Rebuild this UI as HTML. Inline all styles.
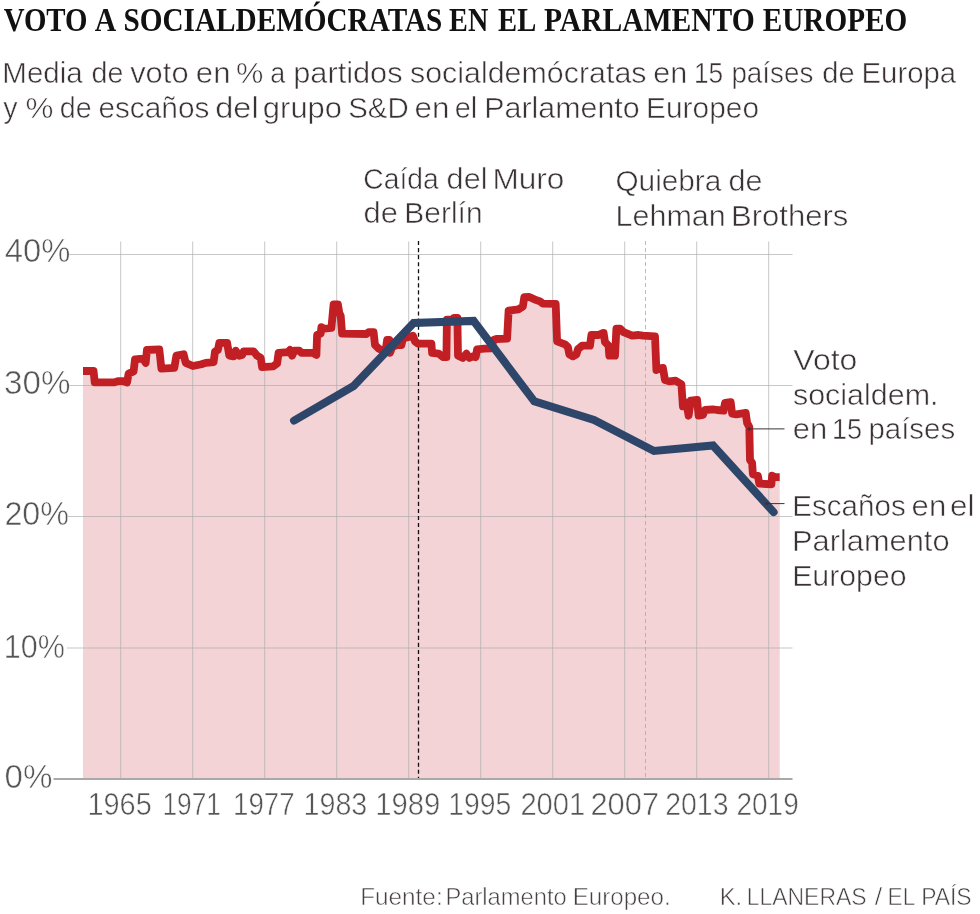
<!DOCTYPE html>
<html lang="es">
<head>
<meta charset="utf-8">
<title>Voto a socialdemócratas en el Parlamento Europeo</title>
<style>
html,body{margin:0;padding:0;background:#fff;}
body{width:980px;height:914px;overflow:hidden;}
svg{display:block;}
.t{font-family:"Liberation Serif","DejaVu Serif",serif;font-weight:bold;font-size:33.5px;fill:#111111;}
.s{font-family:"Liberation Sans","DejaVu Sans",sans-serif;font-weight:normal;font-size:30.3px;fill:#3a3236;}
.a{font-family:"Liberation Sans","DejaVu Sans",sans-serif;font-weight:normal;font-size:30.3px;fill:#3a3236;}
.y{font-family:"Liberation Sans","DejaVu Sans",sans-serif;font-weight:normal;font-size:32.8px;fill:#555555;}
.x{font-family:"Liberation Sans","DejaVu Sans",sans-serif;font-weight:normal;font-size:30.9px;fill:#555555;}
.f{font-family:"Liberation Sans","DejaVu Sans",sans-serif;font-weight:normal;font-size:24.4px;fill:#474141;}
.c{font-family:"Liberation Sans","DejaVu Sans",sans-serif;font-weight:normal;font-size:23.3px;fill:#474141;}
.s,.a,.y,.x,.f,.c{stroke:#ffffff;stroke-width:0.55px;stroke-linejoin:round;}
</style>
</head>
<body>
<svg width="980" height="914" viewBox="0 0 980 914">
<desc>Voto a socialdemócratas en el Parlamento Europeo: media de voto en % a partidos socialdemócratas en 15 países de Europa y % de escaños del grupo S&amp;D en el Parlamento Europeo</desc>
<rect width="980" height="914" fill="#ffffff"/>
<g id="title">
<text class="t" x="3.67" y="30.6" textLength="83.86" lengthAdjust="spacingAndGlyphs">VOTO</text>
<text class="t" x="94.69" y="30.6" textLength="21.54" lengthAdjust="spacingAndGlyphs">A</text>
<text class="t" x="123.45" y="30.6" textLength="318.93" lengthAdjust="spacingAndGlyphs">SOCIALDEMÓCRATAS</text>
<text class="t" x="449.11" y="30.6" textLength="39.15" lengthAdjust="spacingAndGlyphs">EN</text>
<text class="t" x="498.10" y="30.6" textLength="38.16" lengthAdjust="spacingAndGlyphs">EL</text>
<text class="t" x="543.98" y="30.6" textLength="210.84" lengthAdjust="spacingAndGlyphs">PARLAMENTO</text>
<text class="t" x="762.79" y="30.6" textLength="144.47" lengthAdjust="spacingAndGlyphs">EUROPEO</text>
</g>
<g id="subtitle">
<text class="s" x="2.31" y="83.47" textLength="80.41" lengthAdjust="spacingAndGlyphs">Media</text>
<text class="s" x="91.50" y="83.47" textLength="31.94" lengthAdjust="spacingAndGlyphs">de</text>
<text class="s" x="130.16" y="83.47" textLength="58.41" lengthAdjust="spacingAndGlyphs">voto</text>
<text class="s" x="195.83" y="83.47" textLength="34.60" lengthAdjust="spacingAndGlyphs">en</text>
<text class="s" x="236.05" y="83.47" textLength="27.38" lengthAdjust="spacingAndGlyphs">%</text>
<text class="s" x="270.31" y="83.47" textLength="14.96" lengthAdjust="spacingAndGlyphs">a</text>
<text class="s" x="293.20" y="83.47" textLength="109.41" lengthAdjust="spacingAndGlyphs">partidos</text>
<text class="s" x="410.00" y="83.47" textLength="236.53" lengthAdjust="spacingAndGlyphs">socialdemócratas</text>
<text class="s" x="653.35" y="83.47" textLength="34.03" lengthAdjust="spacingAndGlyphs">en</text>
<text class="s" x="693.95" y="83.47" textLength="29.22" lengthAdjust="spacingAndGlyphs">15</text>
<text class="s" x="731.42" y="83.47" textLength="81.90" lengthAdjust="spacingAndGlyphs">países</text>
<text class="s" x="822.28" y="83.47" textLength="32.44" lengthAdjust="spacingAndGlyphs">de</text>
<text class="s" x="861.52" y="83.47" textLength="94.56" lengthAdjust="spacingAndGlyphs">Europa</text>
<text class="s" x="3.21" y="118.27" textLength="14.30" lengthAdjust="spacingAndGlyphs">y</text>
<text class="s" x="25.52" y="118.27" textLength="27.94" lengthAdjust="spacingAndGlyphs">%</text>
<text class="s" x="59.75" y="118.27" textLength="31.94" lengthAdjust="spacingAndGlyphs">de</text>
<text class="s" x="98.40" y="118.27" textLength="110.98" lengthAdjust="spacingAndGlyphs">escaños</text>
<text class="s" x="215.30" y="118.27" textLength="43.38" lengthAdjust="spacingAndGlyphs">del</text>
<text class="s" x="262.89" y="118.27" textLength="79.15" lengthAdjust="spacingAndGlyphs">grupo</text>
<text class="s" x="348.17" y="118.27" textLength="60.47" lengthAdjust="spacingAndGlyphs">S&amp;D</text>
<text class="s" x="414.56" y="118.27" textLength="34.88" lengthAdjust="spacingAndGlyphs">en</text>
<text class="s" x="454.69" y="118.27" textLength="22.64" lengthAdjust="spacingAndGlyphs">el</text>
<text class="s" x="484.23" y="118.27" textLength="155.49" lengthAdjust="spacingAndGlyphs">Parlamento</text>
<text class="s" x="646.02" y="118.27" textLength="113.01" lengthAdjust="spacingAndGlyphs">Europeo</text>
</g>
<path id="area" d="M83.0,371.0 L93.6,371.0 L94.7,382.4 L114.3,382.4 L117.9,381.1 L122.9,381.1 L127.1,382.4 L128.6,373.6 L133.6,371.4 L135.0,359.3 L142.9,358.6 L145.7,362.9 L146.9,350.0 L159.3,349.3 L161.4,368.6 L174.3,367.9 L176.4,355.7 L183.6,354.3 L185.7,362.9 L192.9,366.0 L201.4,364.3 L205.7,362.9 L211.4,362.4 L213.6,362.1 L215.0,351.4 L217.9,350.0 L219.3,342.9 L227.1,342.9 L229.3,355.7 L233.6,356.4 L235.7,350.7 L239.3,355.7 L242.1,355.0 L243.6,351.4 L253.6,351.4 L257.1,355.7 L260.7,357.9 L262.1,367.1 L272.9,366.4 L277.1,363.6 L278.6,352.9 L287.9,352.1 L290.0,350.0 L292.1,355.7 L294.3,350.7 L299.3,350.7 L301.4,352.9 L312.9,352.9 L316.4,355.0 L317.1,335.0 L320.7,333.6 L321.4,327.1 L324.3,328.6 L331.4,327.9 L333.6,304.3 L337.9,304.3 L339.3,312.9 L340.7,315.7 L342.1,333.6 L366.4,334.0 L368.6,332.1 L373.6,332.1 L375.0,345.0 L378.6,348.6 L381.4,350.0 L385.7,350.0 L387.1,340.0 L389.3,340.0 L390.0,352.9 L392.1,347.1 L397.1,345.0 L401.4,345.0 L402.9,338.6 L408.6,337.1 L412.9,335.7 L415.0,341.4 L417.9,343.6 L431.4,343.6 L432.1,352.9 L438.6,353.6 L442.9,357.1 L446.4,357.1 L446.9,319.7 L453.1,319.7 L453.7,318.0 L457.4,318.0 L458.0,355.7 L462.9,357.9 L466.4,353.6 L469.3,357.9 L474.3,355.7 L475.7,357.1 L477.1,349.3 L484.3,348.6 L491.4,348.3 L493.6,340.0 L496.4,339.0 L507.1,338.6 L508.6,310.7 L518.6,309.3 L522.9,306.4 L524.3,297.1 L529.3,296.9 L534.3,299.3 L540.0,301.4 L542.9,303.6 L555.7,303.9 L557.1,341.4 L565.0,344.3 L567.9,347.1 L569.3,354.3 L572.9,356.4 L576.4,354.3 L577.9,349.3 L582.1,345.7 L590.0,345.7 L591.4,335.0 L598.6,335.0 L602.9,332.9 L603.6,332.9 L605.0,342.1 L608.6,345.7 L609.3,355.7 L615.0,355.7 L616.4,328.6 L620.0,328.6 L623.6,332.1 L632.1,335.7 L638.6,335.0 L642.9,335.7 L655.0,336.4 L656.4,370.0 L658.6,368.6 L662.9,367.9 L665.0,380.0 L669.3,381.4 L675.7,380.7 L681.4,384.3 L682.9,406.4 L686.4,402.9 L688.6,415.7 L690.7,400.7 L697.1,400.0 L698.6,415.7 L702.9,415.0 L705.0,410.0 L712.9,409.3 L717.1,410.0 L723.6,410.7 L725.0,402.9 L730.7,402.1 L732.1,413.6 L736.4,414.3 L745.7,412.9 L747.1,422.9 L749.3,427.1 L750.0,460.0 L752.1,462.9 L752.9,474.3 L757.9,475.7 L759.3,483.6 L771.4,484.3 L772.1,475.7 L775.0,477.1 L779.7,477.1 L779.7,779.0 L83.0,779.0 Z" fill="#f3d3d5" stroke="none"/>
<g id="grid" stroke="#aaaaaa" stroke-opacity="0.66" stroke-width="1" fill="none">
<line x1="69" y1="254.5" x2="792.5" y2="254.5"/>
<line x1="69" y1="385.5" x2="792.5" y2="385.5"/>
<line x1="68" y1="516.5" x2="792.5" y2="516.5"/>
<line x1="67" y1="648.0" x2="792.5" y2="648.0"/>
<line x1="120.7" y1="241.5" x2="120.7" y2="778"/>
<line x1="192.7" y1="241.5" x2="192.7" y2="778"/>
<line x1="264.7" y1="241.5" x2="264.7" y2="778"/>
<line x1="336.7" y1="241.5" x2="336.7" y2="778"/>
<line x1="408.7" y1="241.5" x2="408.7" y2="778"/>
<line x1="480.7" y1="241.5" x2="480.7" y2="778"/>
<line x1="552.7" y1="241.5" x2="552.7" y2="778"/>
<line x1="624.7" y1="241.5" x2="624.7" y2="778"/>
<line x1="696.7" y1="241.5" x2="696.7" y2="778"/>
<line x1="768.7" y1="241.5" x2="768.7" y2="778"/>
</g>
<line x1="418.5" y1="241" x2="418.5" y2="779.0" stroke="#111" stroke-width="1.3" stroke-dasharray="4.1,2.95"/>
<line x1="645.5" y1="241" x2="645.5" y2="779.0" stroke="#a4a4a4" stroke-opacity="0.75" stroke-width="1" stroke-dasharray="4,3"/>
<line x1="53.5" y1="779.0" x2="792.5" y2="779.0" stroke="#a9a9a9" stroke-width="2"/>
<path id="red" d="M83.0,371.0 L93.6,371.0 L94.7,382.4 L114.3,382.4 L117.9,381.1 L122.9,381.1 L127.1,382.4 L128.6,373.6 L133.6,371.4 L135.0,359.3 L142.9,358.6 L145.7,362.9 L146.9,350.0 L159.3,349.3 L161.4,368.6 L174.3,367.9 L176.4,355.7 L183.6,354.3 L185.7,362.9 L192.9,366.0 L201.4,364.3 L205.7,362.9 L211.4,362.4 L213.6,362.1 L215.0,351.4 L217.9,350.0 L219.3,342.9 L227.1,342.9 L229.3,355.7 L233.6,356.4 L235.7,350.7 L239.3,355.7 L242.1,355.0 L243.6,351.4 L253.6,351.4 L257.1,355.7 L260.7,357.9 L262.1,367.1 L272.9,366.4 L277.1,363.6 L278.6,352.9 L287.9,352.1 L290.0,350.0 L292.1,355.7 L294.3,350.7 L299.3,350.7 L301.4,352.9 L312.9,352.9 L316.4,355.0 L317.1,335.0 L320.7,333.6 L321.4,327.1 L324.3,328.6 L331.4,327.9 L333.6,304.3 L337.9,304.3 L339.3,312.9 L340.7,315.7 L342.1,333.6 L366.4,334.0 L368.6,332.1 L373.6,332.1 L375.0,345.0 L378.6,348.6 L381.4,350.0 L385.7,350.0 L387.1,340.0 L389.3,340.0 L390.0,352.9 L392.1,347.1 L397.1,345.0 L401.4,345.0 L402.9,338.6 L408.6,337.1 L412.9,335.7 L415.0,341.4 L417.9,343.6 L431.4,343.6 L432.1,352.9 L438.6,353.6 L442.9,357.1 L446.4,357.1 L446.9,319.7 L453.1,319.7 L453.7,318.0 L457.4,318.0 L458.0,355.7 L462.9,357.9 L466.4,353.6 L469.3,357.9 L474.3,355.7 L475.7,357.1 L477.1,349.3 L484.3,348.6 L491.4,348.3 L493.6,340.0 L496.4,339.0 L507.1,338.6 L508.6,310.7 L518.6,309.3 L522.9,306.4 L524.3,297.1 L529.3,296.9 L534.3,299.3 L540.0,301.4 L542.9,303.6 L555.7,303.9 L557.1,341.4 L565.0,344.3 L567.9,347.1 L569.3,354.3 L572.9,356.4 L576.4,354.3 L577.9,349.3 L582.1,345.7 L590.0,345.7 L591.4,335.0 L598.6,335.0 L602.9,332.9 L603.6,332.9 L605.0,342.1 L608.6,345.7 L609.3,355.7 L615.0,355.7 L616.4,328.6 L620.0,328.6 L623.6,332.1 L632.1,335.7 L638.6,335.0 L642.9,335.7 L655.0,336.4 L656.4,370.0 L658.6,368.6 L662.9,367.9 L665.0,380.0 L669.3,381.4 L675.7,380.7 L681.4,384.3 L682.9,406.4 L686.4,402.9 L688.6,415.7 L690.7,400.7 L697.1,400.0 L698.6,415.7 L702.9,415.0 L705.0,410.0 L712.9,409.3 L717.1,410.0 L723.6,410.7 L725.0,402.9 L730.7,402.1 L732.1,413.6 L736.4,414.3 L745.7,412.9 L747.1,422.9 L749.3,427.1 L750.0,460.0 L752.1,462.9 L752.9,474.3 L757.9,475.7 L759.3,483.6 L771.4,484.3 L772.1,475.7 L775.0,477.1 L779.7,477.1" fill="none" stroke="#c21f24" stroke-width="7.8" stroke-linejoin="round" stroke-linecap="butt"/>
<path id="blue" d="M294.0,420.6 L353.6,386.0 L413.6,322.9 L473.6,320.9 L534.3,401.4 L594.0,420.0 L654.0,451.0 L713.0,445.5 L773.6,512.1" fill="none" stroke="#2d4669" stroke-width="8" stroke-linejoin="miter" stroke-linecap="round"/>
<g stroke="#3b3337" stroke-width="1" fill="#3b3337"><line x1="749" y1="428.9" x2="784.5" y2="428.9"/><circle cx="749" cy="428.9" r="1.6" stroke="none"/><line x1="766.7" y1="503.6" x2="784.5" y2="503.6"/><circle cx="766.7" cy="503.6" r="1.6" stroke="none"/></g>
<g id="ylabels">
<text class="y" x="4.78" y="262.47" textLength="65.59" lengthAdjust="spacingAndGlyphs">40%</text>
<text class="y" x="4.03" y="394.27" textLength="66.36" lengthAdjust="spacingAndGlyphs">30%</text>
<text class="y" x="4.40" y="525.47" textLength="64.65" lengthAdjust="spacingAndGlyphs">20%</text>
<text class="y" x="3.81" y="657.77" textLength="61.06" lengthAdjust="spacingAndGlyphs">10%</text>
<text class="y" x="4.50" y="788.07" textLength="47.88" lengthAdjust="spacingAndGlyphs">0%</text>
</g>
<g id="xlabels">
<text class="x" x="87.43" y="814.87" textLength="64.35" lengthAdjust="spacingAndGlyphs">1965</text>
<text class="x" x="162.45" y="814.87" textLength="58.51" lengthAdjust="spacingAndGlyphs">1971</text>
<text class="x" x="233.03" y="814.87" textLength="61.55" lengthAdjust="spacingAndGlyphs">1977</text>
<text class="x" x="303.55" y="814.87" textLength="63.77" lengthAdjust="spacingAndGlyphs">1983</text>
<text class="x" x="375.20" y="814.87" textLength="65.12" lengthAdjust="spacingAndGlyphs">1989</text>
<text class="x" x="448.28" y="814.87" textLength="63.07" lengthAdjust="spacingAndGlyphs">1995</text>
<text class="x" x="520.38" y="814.87" textLength="64.95" lengthAdjust="spacingAndGlyphs">2001</text>
<text class="x" x="590.38" y="814.87" textLength="68.81" lengthAdjust="spacingAndGlyphs">2007</text>
<text class="x" x="665.22" y="814.87" textLength="63.29" lengthAdjust="spacingAndGlyphs">2013</text>
<text class="x" x="736.45" y="814.87" textLength="62.30" lengthAdjust="spacingAndGlyphs">2019</text>
</g>
<g id="annotations">
<text class="a" x="363.36" y="188.57" textLength="75.42" lengthAdjust="spacingAndGlyphs">Caída</text>
<text class="a" x="446.60" y="188.57" textLength="40.89" lengthAdjust="spacingAndGlyphs">del</text>
<text class="a" x="492.42" y="188.57" textLength="71.90" lengthAdjust="spacingAndGlyphs">Muro</text>
<text class="a" x="363.48" y="223.27" textLength="34.44" lengthAdjust="spacingAndGlyphs">de</text>
<text class="a" x="404.37" y="223.27" textLength="78.20" lengthAdjust="spacingAndGlyphs">Berlín</text>
<text class="a" x="615.48" y="190.77" textLength="105.86" lengthAdjust="spacingAndGlyphs">Quiebra</text>
<text class="a" x="728.40" y="190.77" textLength="33.99" lengthAdjust="spacingAndGlyphs">de</text>
<text class="a" x="615.52" y="225.97" textLength="110.26" lengthAdjust="spacingAndGlyphs">Lehman</text>
<text class="a" x="730.97" y="225.97" textLength="117.40" lengthAdjust="spacingAndGlyphs">Brothers</text>
<text class="a" x="793.33" y="370.17" textLength="64.03" lengthAdjust="spacingAndGlyphs">Voto</text>
<text class="a" x="792.95" y="404.77" textLength="145.61" lengthAdjust="spacingAndGlyphs">socialdem.</text>
<text class="a" x="792.73" y="439.07" textLength="34.48" lengthAdjust="spacingAndGlyphs">en</text>
<text class="a" x="831.98" y="439.07" textLength="30.14" lengthAdjust="spacingAndGlyphs">15</text>
<text class="a" x="868.39" y="439.07" textLength="86.81" lengthAdjust="spacingAndGlyphs">países</text>
<text class="a" x="792.20" y="516.27" textLength="113.65" lengthAdjust="spacingAndGlyphs">Escaños</text>
<text class="a" x="911.63" y="516.27" textLength="34.60" lengthAdjust="spacingAndGlyphs">en</text>
<text class="a" x="950.01" y="516.27" textLength="24.51" lengthAdjust="spacingAndGlyphs">el</text>
<text class="a" x="792.09" y="551.07" textLength="157.44" lengthAdjust="spacingAndGlyphs">Parlamento</text>
<text class="a" x="792.14" y="585.57" textLength="114.42" lengthAdjust="spacingAndGlyphs">Europeo</text>
</g>
<g id="footer">
<text class="f" x="360.24" y="904.87" textLength="82.40" lengthAdjust="spacingAndGlyphs">Fuente:</text>
<text class="f" x="445.39" y="904.87" textLength="121.34" lengthAdjust="spacingAndGlyphs">Parlamento</text>
<text class="f" x="572.65" y="904.87" textLength="98.02" lengthAdjust="spacingAndGlyphs">Europeo.</text>
<text class="c" x="719.67" y="905.07" textLength="22.56" lengthAdjust="spacingAndGlyphs">K.</text>
<text class="c" x="746.76" y="905.07" textLength="119.77" lengthAdjust="spacingAndGlyphs">LLANERAS</text>
<text class="c" x="874.72" y="905.07" textLength="7.46" lengthAdjust="spacingAndGlyphs">/</text>
<text class="c" x="887.59" y="905.07" textLength="27.68" lengthAdjust="spacingAndGlyphs">EL</text>
<text class="c" x="921.16" y="905.07" textLength="50.51" lengthAdjust="spacingAndGlyphs">PAÍS</text>
</g>
</svg>
</body>
</html>
